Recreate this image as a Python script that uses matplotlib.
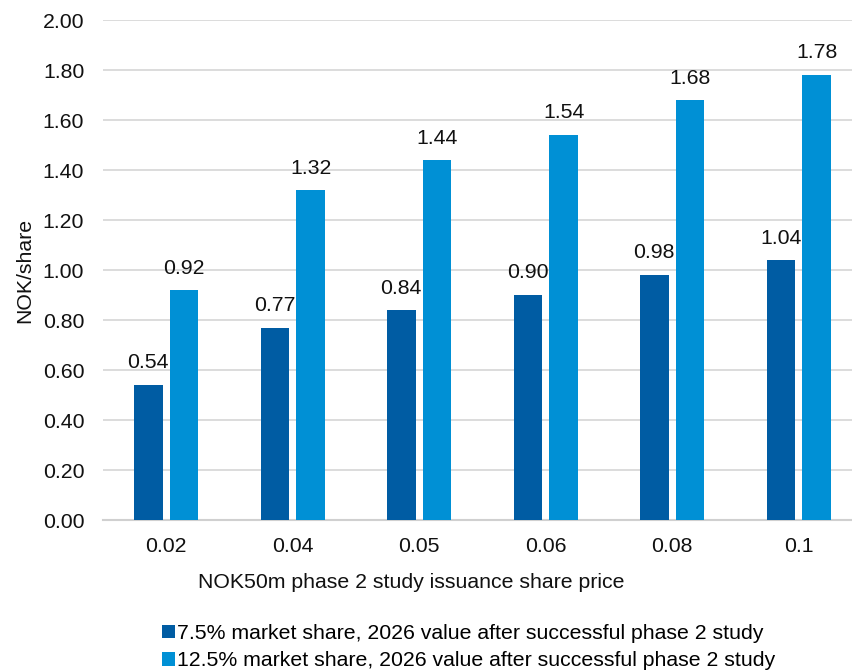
import matplotlib
matplotlib.use("Agg")
import matplotlib.pyplot as plt
import numpy as np
from matplotlib.patches import Patch

plt.rcParams["font.family"] = ["Liberation Sans", "DejaVu Sans"]

# Issuance share price scenarios and resulting value per share
prices = ["0.02", "0.04", "0.05", "0.06", "0.08", "0.1"]
value_75 = [0.54, 0.77, 0.84, 0.90, 0.98, 1.04]
value_125 = [0.92, 1.32, 1.44, 1.54, 1.68, 1.78]
series_names = [
    "7.5% market share, 2026 value after successful phase 2 study",
    "12.5% market share, 2026 value after successful phase 2 study",
]
yticks = [0.0, 0.2, 0.4, 0.6, 0.8, 1.0, 1.2, 1.4, 1.6, 1.8, 2.0]

DARK = "#005CA3"
LIGHT = "#0090D5"
FS = 15.3

W, H = 852, 670
fig = plt.figure(figsize=(W / 100, H / 100), dpi=100)
# plot area runs a little past the right edge of the canvas
left, right, top, bottom = 103, 862, 20, 520
ax = fig.add_axes([left / W, 1 - bottom / H, (right - left) / W, (bottom - top) / H])

x = np.arange(len(prices))
bw = 0.225
off = 0.142
b1 = ax.bar(x - off, value_75, bw, color=DARK, zorder=3)
b2 = ax.bar(x + off, value_125, bw, color=LIGHT, zorder=3)

for bars, vals in ((b1, value_75), (b2, value_125)):
    for rect, v in zip(bars, vals):
        ax.annotate(f"{v:.2f}", (rect.get_x() + rect.get_width() / 2, v),
                    xytext=(0, 9), textcoords="offset points",
                    ha="center", va="bottom", fontsize=FS, color="#111111")

ax.set_xlim(-0.5, len(prices) - 0.5)
ax.set_ylim(0, 2.0)
ax.set_yticks(yticks)
ax.set_yticklabels([f"{t:.2f}" for t in yticks])
ax.set_xticks(x)
ax.set_xticklabels(prices)
ax.tick_params(axis="both", length=0, labelsize=FS, colors="#111111")
ax.tick_params(axis="y", pad=13.5)
ax.tick_params(axis="x", pad=12.5)

ax.grid(axis="y", color="#d9d9d9", linewidth=1.3, zorder=0)
for s in ("left", "right", "top"):
    ax.spines[s].set_visible(False)
ax.spines["bottom"].set_color("#d0d0d0")
ax.spines["bottom"].set_linewidth(1.5)

fig.text(25 / W, 1 - 270 / H, "NOK/share", rotation=90, ha="center", va="center",
         fontsize=FS, color="#111111")
fig.text(411 / W, 1 - 583 / H, "NOK50m phase 2 study issuance share price",
         ha="center", va="center", fontsize=FS, color="#111111")

handles = [Patch(facecolor=DARK), Patch(facecolor=LIGHT)]
fig.legend(handles, series_names, loc="upper left",
           bbox_to_anchor=(162 / W, 1 - 624 / H), frameon=False,
           fontsize=FS, handlelength=0.6, handleheight=0.6, handletextpad=0.12,
           labelspacing=0.4, borderpad=0, borderaxespad=0)

fig.savefig("out.png", dpi=100)
